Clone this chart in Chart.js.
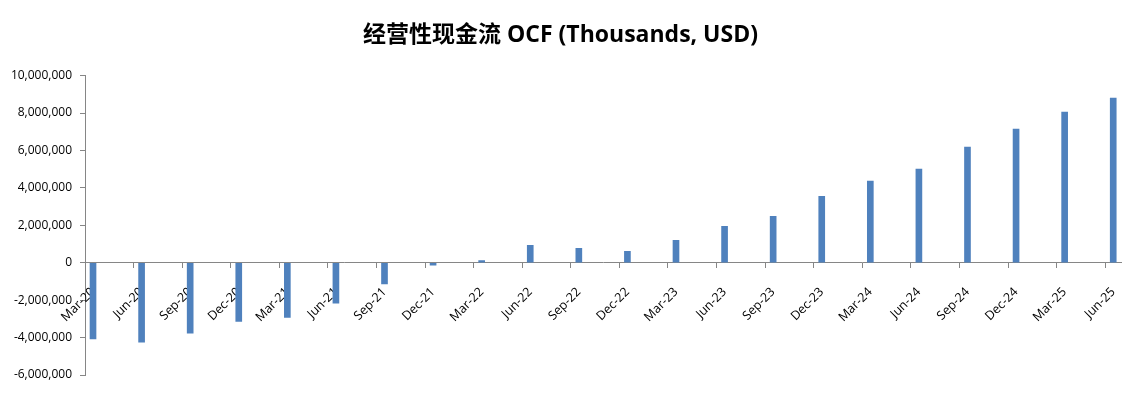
<!DOCTYPE html>
<html>
<head>
<meta charset="utf-8">
<script src="https://cdn.jsdelivr.net/npm/chart.js@4.4.1/dist/chart.umd.min.js"></script>
<style>
  html, body { margin: 0; padding: 0; background: #fff; }
  #wrap { width: 1143px; height: 393px; position: relative; }
</style>
</head>
<body>
<div id="wrap"><canvas id="ocfChart"></canvas></div>
<script>
// --- data (thousands USD) ---
const categories = [
  'Mar-20', 'Jun-20', 'Sep-20', 'Dec-20', 'Mar-21', 'Jun-21', 'Sep-21', 'Dec-21',
  'Mar-22', 'Jun-22', 'Sep-22', 'Dec-22', 'Mar-23', 'Jun-23', 'Sep-23', 'Dec-23',
  'Mar-24', 'Jun-24', 'Sep-24', 'Dec-24', 'Mar-25', 'Jun-25'
];
const ocfValues = [
  -4070000, -4250000, -3770000, -3130000, -2920000, -2160000, -1130000, -130000,
  120000, 930000, 770000, 610000, 1200000, 1950000, 2480000, 3550000,
  4360000, 5000000, 6180000, 7140000, 8050000, 8800000
];
const yTicks = [-6000000, -4000000, -2000000, 0, 2000000, 4000000, 6000000, 8000000, 10000000];

const titleText = '经营性现金流 OCF (Thousands, USD)';
const axisGray = '#868686';
const barBlue = '#4F81BD';
const tickShift = 0.165; // date-axis ticks sit a little left of each bar

const ctx = document.getElementById('ocfChart').getContext('2d');

new Chart(ctx, {
  type: 'bar',
  data: {
    datasets: [{
      label: 'OCF',
      data: ocfValues.map((v, i) => ({ x: i, y: v })),
      backgroundColor: barBlue,
      borderWidth: 0,
      barThickness: 6,
      xAxisID: 'x'
    }]
  },
  options: {
    responsive: true,
    maintainAspectRatio: false,
    animation: false,
    layout: { padding: { left: 0, right: 22, top: 0, bottom: 18 } },
    plugins: {
      legend: { display: false },
      tooltip: { enabled: false },
      title: {
        display: true,
        text: titleText,
        color: '#000',
        font: { family: "'Open Sans', 'Noto Sans CJK SC', sans-serif", size: 23, weight: 'bold' },
        padding: { top: 22, bottom: 26 }
      }
    },
    scales: {
      y: {
        type: 'linear',
        min: -6000000,
        max: 10000000,
        afterBuildTicks: (scale) => { scale.ticks = yTicks.map(v => ({ value: v })); },
        afterFit: (scale) => { scale.width = 85; },
        grid: { drawOnChartArea: false, drawTicks: true, tickLength: 5, color: axisGray },
        border: { display: true, color: axisGray },
        ticks: {
          color: '#000',
          padding: 8,
          font: { family: "'Open Sans', sans-serif", size: 12 },
          callback: (v) => v.toLocaleString('en-US')
        }
      },
      // label axis: category names under each bar, plus the zero line
      x: {
        type: 'linear',
        position: { y: 0 },
        offset: false,
        min: -tickShift,
        max: categories.length - 1 + 0.16,
        afterBuildTicks: (scale) => { scale.ticks = categories.map((c, i) => ({ value: i })); },
        afterFit: (scale) => { scale.height = 0; },
        grid: { display: false, offset: false },
        border: { display: true, color: axisGray },
        ticks: {
          autoSkip: false,
          maxRotation: 45,
          minRotation: 45,
          padding: 14,
          color: '#000',
          font: { family: "'Open Sans', sans-serif", size: 12.5 },
          callback: (v, index) => categories[index]
        }
      },
      // tick-mark axis: small marks on the zero line
      xTicks: {
        type: 'linear',
        axis: 'x',
        position: { y: 0 },
        offset: false,
        min: -tickShift,
        max: categories.length - 1 + 0.16,
        afterBuildTicks: (scale) => { scale.ticks = categories.map((c, i) => ({ value: i - tickShift })); },
        afterFit: (scale) => { scale.height = 0; },
        grid: { drawOnChartArea: false, drawTicks: true, tickLength: 5, color: axisGray, offset: false },
        border: { display: false },
        ticks: { display: false }
      }
    }
  }
});
</script>
</body>
</html>
